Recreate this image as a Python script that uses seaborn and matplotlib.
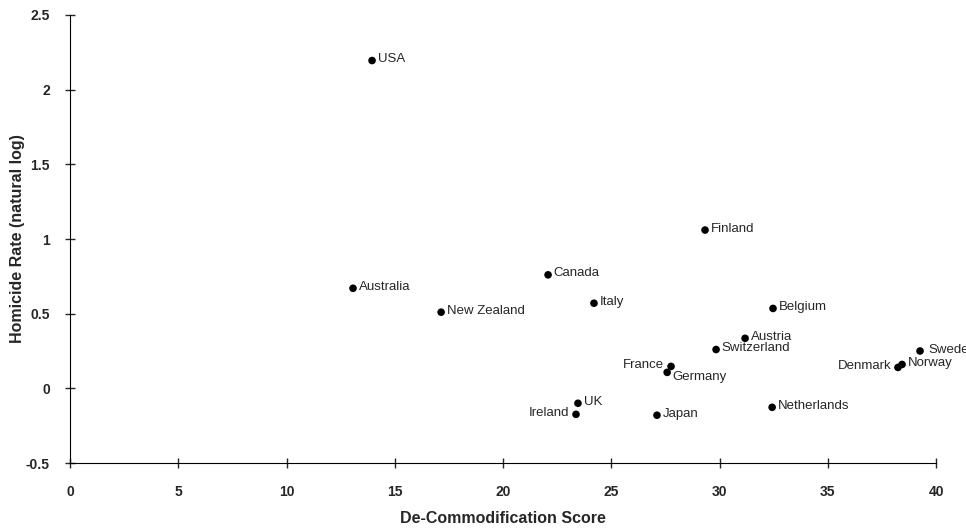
import seaborn as sns
import matplotlib.pyplot as plt
import pandas as pd

# country values
countries = ['USA', 'Australia', 'New Zealand', 'Canada', 'Italy', 'Finland',
             'Belgium', 'Austria', 'Switzerland', 'France', 'Germany', 'UK',
             'Ireland', 'Japan', 'Netherlands', 'Denmark', 'Norway', 'Sweden']
decom = [13.95, 13.07, 17.14, 22.08, 24.2, 29.33,
         32.47, 31.18, 29.84, 27.76, 27.58, 23.46,
         23.37, 27.11, 32.43, 38.24, 38.43, 39.26]
homicide = [2.195, 0.67, 0.51, 0.76, 0.57, 1.06,
            0.535, 0.335, 0.26, 0.147, 0.107, -0.10,
            -0.174, -0.18, -0.127, 0.14, 0.16, 0.25]

# labels sitting left of the dot
left_labels = ['France', 'Denmark', 'Ireland']

df = pd.DataFrame({'country': countries, 'x': decom, 'y': homicide})

sns.set_style('ticks')
plt.rcParams['font.family'] = ['Liberation Sans', 'DejaVu Sans']

fig = plt.figure(figsize=(9.66, 5.30), dpi=100)
ax = fig.add_axes([0.0725, 0.1264, 0.8965, 0.8453])

sns.scatterplot(data=df, x='x', y='y', color='black', s=30, edgecolor='none', ax=ax)

for c, x, y in zip(countries, decom, homicide):
    if c in left_labels:
        ax.annotate(c, (x, y), xytext=(-5, 1), textcoords='offset points',
                    ha='right', va='center', fontsize=9.5, annotation_clip=False)
    else:
        dy = -3 if c == 'Germany' else 1
        xoff = 6 if c == 'Sweden' else 4
        ax.annotate(c, (x, y), xytext=(xoff, dy), textcoords='offset points',
                    ha='left', va='center', fontsize=9.5, annotation_clip=False)

ax.set_xlim(0, 40)
ax.set_ylim(-0.5, 2.5)
ax.set_xticks(range(0, 41, 5))
ax.set_yticks([-0.5, 0, 0.5, 1, 1.5, 2, 2.5])
ax.set_yticklabels(['-0.5', '0', '0.5', '1', '1.5', '2', '2.5'])
ax.tick_params(direction='inout', length=7, width=1, labelsize=10)
ax.tick_params(axis='x', pad=12)
ax.tick_params(axis='y', pad=11)
for lbl in ax.get_xticklabels() + ax.get_yticklabels():
    lbl.set_fontweight('bold')

sns.despine(ax=ax)
ax.spines['left'].set_color('black')
ax.spines['bottom'].set_color('black')

ax.set_xlabel('De-Commodification Score', fontsize=11.5, fontweight='bold', labelpad=9)
ax.set_ylabel('Homicide Rate (natural log)', fontsize=11.5, fontweight='bold', labelpad=1)

plt.savefig('out.png', dpi=100)
